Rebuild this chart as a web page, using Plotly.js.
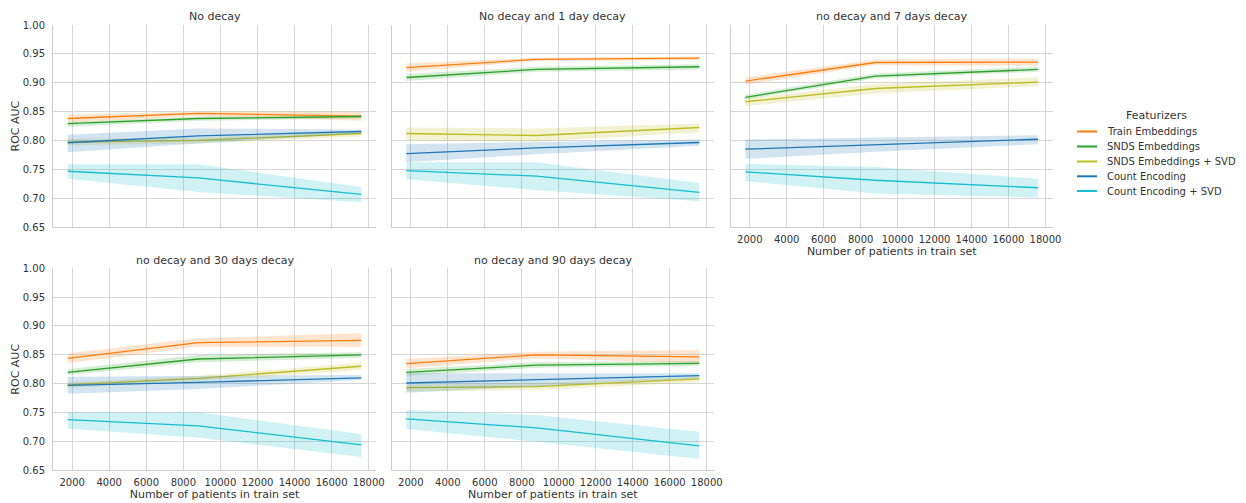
<!DOCTYPE html>
<html>
<head>
<meta charset="utf-8">
<script src="https://cdn.plot.ly/plotly-3.0.1.min.js"></script>
<style>html,body{margin:0;padding:0;background:#fff;}#chart{width:1246px;height:503px;}</style>
</head>
<body>
<div id="chart"></div>
<script>
// ---- data ----
const trainSizes = [1760, 8800, 17600];
const panelTitles = ["No decay", "No decay and 1 day decay", "no decay and 7 days decay",
                     "no decay and 30 days decay", "no decay and 90 days decay"];
const seriesNames = ["Train Embeddings", "SNDS Embeddings", "SNDS Embeddings + SVD",
                     "Count Encoding", "Count Encoding + SVD"];
const seriesColors = ["#ff7f0e", "#2ca02c", "#bcbd22", "#1f77b4", "#17becf"];
const xTicks = [2000, 4000, 6000, 8000, 10000, 12000, 14000, 16000, 18000];
const yTicks = [0.65, 0.70, 0.75, 0.80, 0.85, 0.90, 0.95, 1.00];

// rows = series (same order as seriesNames), cols = trainSizes
const noDecayMean = [[0.838, 0.847, 0.842], [0.829, 0.838, 0.8415], [0.797, 0.800, 0.812], [0.796, 0.808, 0.8155], [0.7466, 0.735, 0.7067]];
const noDecayLow  = [[0.831, 0.842, 0.834], [0.8235, 0.834, 0.838], [0.7917, 0.7946, 0.807], [0.7796, 0.7946, 0.812], [0.7334, 0.7107, 0.6928]];
const noDecayHigh = [[0.845, 0.8496, 0.8496], [0.832, 0.841, 0.844], [0.803, 0.805, 0.815], [0.810, 0.8207, 0.819], [0.7588, 0.7588, 0.7194]];

const decay1Mean = [[0.926, 0.9404, 0.9427], [0.909, 0.923, 0.9277], [0.812, 0.8085, 0.8224], [0.7773, 0.787, 0.7964], [0.7478, 0.738, 0.710]];
const decay1Low  = [[0.919, 0.9375, 0.939], [0.903, 0.919, 0.923], [0.8004, 0.7975, 0.8143], [0.7622, 0.7761, 0.7906], [0.7327, 0.7136, 0.6945]];
const decay1High = [[0.9335, 0.9433, 0.9456], [0.915, 0.9277, 0.932], [0.8224, 0.8207, 0.8293], [0.7935, 0.7975, 0.8016], [0.7622, 0.7622, 0.7264]];

const decay7Mean = [[0.9028, 0.935, 0.9358], [0.8745, 0.9115, 0.923], [0.867, 0.890, 0.901], [0.7848, 0.793, 0.802], [0.7455, 0.731, 0.718]];
const decay7Low  = [[0.8964, 0.9306, 0.9294], [0.871, 0.9075, 0.919], [0.8594, 0.8814, 0.8941], [0.768, 0.7802, 0.7935], [0.7293, 0.708, 0.7009]];
const decay7High = [[0.9092, 0.9404, 0.9416], [0.8791, 0.9161, 0.9277], [0.8726, 0.8976, 0.9092], [0.8016, 0.805, 0.809], [0.7593, 0.754, 0.7339]];

const decay30Mean = [[0.8438, 0.871, 0.875], [0.8195, 0.8426, 0.8496], [0.7976, 0.809, 0.830], [0.797, 0.802, 0.810], [0.7375, 0.7265, 0.6935]];
const decay30Low  = [[0.8351, 0.864, 0.8635], [0.8149, 0.8369, 0.8449], [0.7929, 0.8045, 0.8236], [0.7825, 0.7906, 0.8062], [0.7215, 0.706, 0.6726]];
const decay30High = [[0.8525, 0.8785, 0.8872], [0.8247, 0.8496, 0.8542], [0.8021, 0.8137, 0.8363], [0.812, 0.8137, 0.8149], [0.750, 0.750, 0.7125]];

const decay90Mean = [[0.8347, 0.8497, 0.8462], [0.8195, 0.832, 0.835], [0.793, 0.7947, 0.808], [0.801, 0.8067, 0.8137], [0.7386, 0.723, 0.692]];
const decay90Low  = [[0.8264, 0.8438, 0.8351], [0.8137, 0.8276, 0.8311], [0.786, 0.7888, 0.8021], [0.7842, 0.7946, 0.8091], [0.721, 0.699, 0.6691]];
const decay90High = [[0.8426, 0.8554, 0.8583], [0.8253, 0.8369, 0.8392], [0.7987, 0.8004, 0.812], [0.8178, 0.8178, 0.8178], [0.754, 0.7453, 0.7165]];

// ---- build ----
const panels = [
  {mean: noDecayMean, low: noDecayLow, high: noDecayHigh},
  {mean: decay1Mean, low: decay1Low, high: decay1High},
  {mean: decay7Mean, low: decay7Low, high: decay7High},
  {mean: decay30Mean, low: decay30Low, high: decay30High},
  {mean: decay90Mean, low: decay90Low, high: decay90High}
];

const W = 1246, H = 503;
const px = v => v / W, py = v => 1 - v / H;
const xDomains = [[px(53), px(376)], [px(391.7), px(714)], [px(730.7), px(1052.7)], [px(53), px(376)], [px(391.7), px(714)]];
const yDomains = [[py(227), py(25)], [py(227), py(25)], [py(227), py(25)], [py(470), py(268.3)], [py(470), py(268.3)]];
const titleY = [17, 17, 17, 260, 260];

function rgba(hex, a) {
  const n = parseInt(hex.slice(1), 16);
  return `rgba(${(n >> 16) & 255},${(n >> 8) & 255},${n & 255},${a})`;
}

const FONT = "DejaVu Sans, Verdana, sans-serif";
const traces = [];
const layout = {
  width: W, height: H,
  margin: {l: 0, r: 0, t: 0, b: 0},
  paper_bgcolor: "#ffffff", plot_bgcolor: "#ffffff",
  showlegend: false,
  font: {family: FONT, size: 10, color: "#333333"},
  annotations: [], shapes: []
};

panels.forEach((p, i) => {
  const k = i === 0 ? "" : String(i + 1);
  const xa = "x" + k, ya = "y" + k;
  seriesNames.forEach((name, s) => {
    traces.push({
      type: "scatter", mode: "lines", xaxis: xa, yaxis: ya,
      x: trainSizes.concat(trainSizes.slice().reverse()),
      y: p.high[s].concat(p.low[s].slice().reverse()),
      fill: "toself", fillcolor: rgba(seriesColors[s], 0.2),
      line: {width: 0, color: "rgba(0,0,0,0)"}, hoverinfo: "skip", showlegend: false
    });
    traces.push({
      type: "scatter", mode: "lines", xaxis: xa, yaxis: ya, name: name,
      x: trainSizes, y: p.mean[s],
      line: {color: seriesColors[s], width: 1.3}, showlegend: false
    });
  });
  const showX = i >= 2;
  const showY = i === 0 || i === 3;
  layout["xaxis" + k] = {
    domain: xDomains[i], anchor: ya, range: [968, 18392],
    tickvals: xTicks, ticktext: xTicks.map(String), showticklabels: showX,
    ticks: "", ticklabelstandoff: 3,
    showgrid: true, gridcolor: "#d6d6d6", gridwidth: 1,
    showline: true, linecolor: "#cccccc", linewidth: 1, mirror: false,
    zeroline: false, automargin: false,
    tickfont: {family: FONT, size: 10, color: "#333333"},
    title: showX ? {text: "Number of patients in train set", standoff: 2,
                    font: {family: FONT, size: 11, color: "#333333"}} : {text: ""}
  };
  layout["yaxis" + k] = {
    domain: yDomains[i], anchor: xa, range: [0.65, 1.0],
    tickvals: yTicks, ticktext: yTicks.map(v => v.toFixed(2)), showticklabels: showY,
    ticks: "", ticklabelstandoff: 5,
    showgrid: true, gridcolor: "#d6d6d6", gridwidth: 1,
    showline: true, linecolor: "#cccccc", linewidth: 1, mirror: false,
    zeroline: false, automargin: false,
    tickfont: {family: FONT, size: 10, color: "#333333"},
    title: {text: ""}
  };
  if (showY) {
    layout.annotations.push({
      text: "ROC AUC", xref: "paper", yref: "paper", textangle: -90,
      x: px(15.5), y: (yDomains[i][0] + yDomains[i][1]) / 2,
      xanchor: "center", yanchor: "middle", showarrow: false,
      font: {family: FONT, size: 11, color: "#333333"}
    });
  }
  layout.annotations.push({
    text: panelTitles[i], xref: "paper", yref: "paper",
    x: (xDomains[i][0] + xDomains[i][1]) / 2, y: py(titleY[i]),
    xanchor: "center", yanchor: "middle", showarrow: false,
    font: {family: FONT, size: 11, color: "#333333"}
  });
});

// legend (drawn in paper space)
layout.annotations.push({
  text: "Featurizers", xref: "paper", yref: "paper", x: px(1156), y: py(115),
  xanchor: "center", yanchor: "middle", showarrow: false,
  font: {family: FONT, size: 11, color: "#333333"}
});
const legendY = [131.5, 146.5, 161.5, 176.3, 191];
seriesNames.forEach((name, s) => {
  layout.shapes.push({
    type: "line", xref: "paper", yref: "paper",
    x0: px(1077), x1: px(1097), y0: py(legendY[s]), y1: py(legendY[s]),
    line: {color: seriesColors[s], width: 2}
  });
  layout.annotations.push({
    text: name, xref: "paper", yref: "paper", x: px(1105), y: py(legendY[s]),
    xanchor: "left", yanchor: "middle", showarrow: false,
    font: {family: FONT, size: 10, color: "#333333"}
  });
});

Plotly.newPlot("chart", traces, layout, {staticPlot: true, displayModeBar: false});
</script>
</body>
</html>
